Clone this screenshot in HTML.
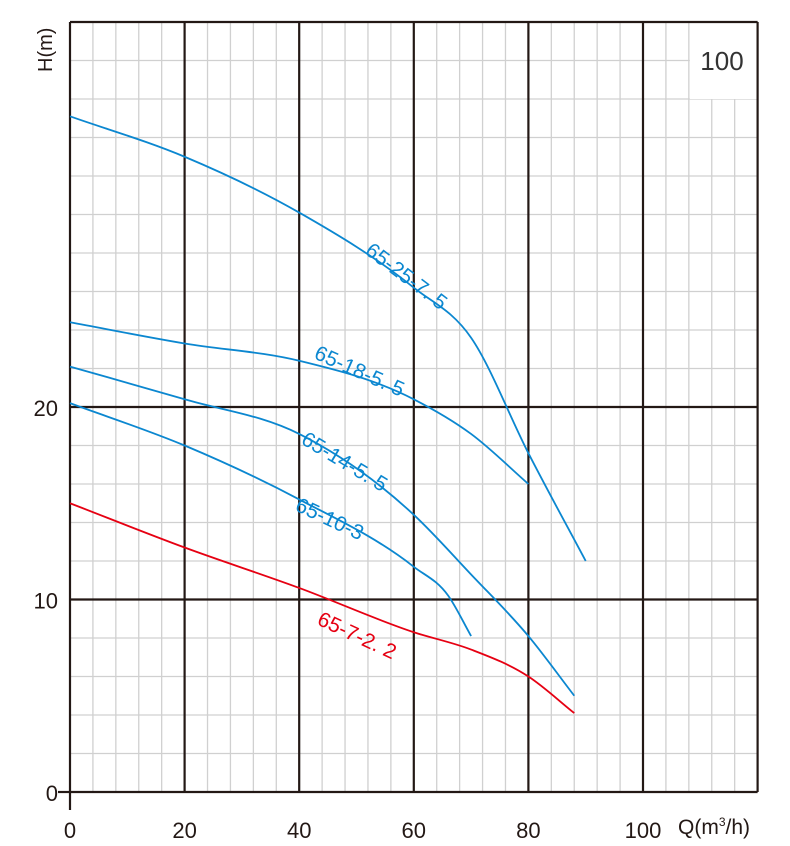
<!DOCTYPE html>
<html><head><meta charset="utf-8"><style>
html,body{margin:0;padding:0;background:#fff;}
svg{display:block;font-family:"Liberation Sans",sans-serif;}
</style></head><body>
<svg id="chart" width="790" height="846" viewBox="0 0 790 846" xmlns="http://www.w3.org/2000/svg">
<g id="grid"></g>
<g id="curves"></g>
<g id="labels"></g>
</svg>
<script>
const xTicks=[0,20,40,60,80,100];
const yTicks=[0,10,20];
const q25=[0,20,40,60,70,80,90];
const h25=[35.1,33.0,30.1,26.2,23.6,17.6,12.0];
const q18=[0,20,40,60,70,80];
const h18=[24.4,23.3,22.4,20.4,18.6,16.0];
const q14=[0,20,40,60,70,80,88];
const h14=[22.1,20.4,18.6,14.4,11.3,8.1,5.0];
const q10=[0,20,40,60,66,70];
const h10=[20.2,18.0,15.2,11.7,10.2,8.1];
const q7=[0,20,40,60,70,80,88];
const h7=[15.0,12.7,10.6,8.3,7.4,6.0,4.1];
const NS="http://www.w3.org/2000/svg";
const X0=70,XS=5.73,Y0=792,YS=19.25;
function sx(q){return X0+q*XS;}
function sy(h){return Y0-h*YS;}
function mk(tag,attrs,parent){const e=document.createElementNS(NS,tag);for(const k in attrs)e.setAttribute(k,attrs[k]);parent.appendChild(e);return e;}
const grid=document.getElementById('grid');
for(let q=0;q<=120;q+=4){
  if(q%20===0)continue;
  const l=mk('line',{x1:sx(q),x2:sx(q),y1:sy(40),y2:sy(0),stroke:'#d0d0d0','stroke-width':1.3},grid);
  
  
}
for(let h=0;h<=40;h+=2){
  if(h%10===0 && h<=20)continue;
  const l=mk('line',{x1:sx(0),x2:sx(120),y1:sy(h),y2:sy(h),stroke:'#d0d0d0','stroke-width':1.3},grid);
  
  
}
const box=mk('rect',{x:sx(108)+1,y:sy(40)+1,width:sx(120)-sx(108)-2,height:sy(36)-sy(40)-1,fill:'#fff'},grid);


for(let q=0;q<=120;q+=20){
  const l=mk('line',{x1:sx(q),x2:sx(q),y1:sy(40),y2:sy(0),stroke:'#231815','stroke-width':2.2},grid);
  
  
}
[0,10,20,40].forEach(h=>{
  const l=mk('line',{x1:sx(0),x2:sx(120),y1:sy(h),y2:sy(h),stroke:'#231815','stroke-width':2.2},grid);
  
  
});
let e1=mk('line',{x1:sx(0)-12,x2:sx(0),y1:sy(0),y2:sy(0),stroke:'#231815','stroke-width':2.2},grid);


let e2=mk('line',{x1:sx(0),x2:sx(0),y1:sy(0),y2:sy(0)+18,stroke:'#231815','stroke-width':2.2},grid);


const labels=document.getElementById('labels');
xTicks.forEach(t=>{
  const tx=mk('text',{x:sx(t),y:838,'text-anchor':'middle','font-size':22,fill:'#231815'},labels);
  tx.textContent=t;
  
  
});
yTicks.forEach(t=>{
  const tx=mk('text',{x:58,y:sy(t)+9,'text-anchor':'end','font-size':22,fill:'#231815'},labels);
  tx.textContent=t;
  
  
});
let xt=mk('text',{x:678,y:834,'font-size':21,fill:'#231815'},labels);
xt.innerHTML='Q(m<tspan font-size="12" dy="-8">3</tspan><tspan dy="8">/h)</tspan>';


let yt=mk('text',{x:0,y:0,'font-size':20,fill:'#231815',transform:'translate(52,72) rotate(-90)'},labels);
yt.textContent='H(m)';


let mt=mk('text',{x:722,y:70,'text-anchor':'middle','font-size':26,fill:'#333'},labels);
mt.textContent='100';


const curves=document.getElementById('curves');
function path(qs,hs){
  const n=qs.length,sec=[],m=[];
  for(let i=0;i<n-1;i++)sec.push((hs[i+1]-hs[i])/(qs[i+1]-qs[i]));
  for(let i=0;i<n;i++){
    if(i===0)m.push(sec[0]);else if(i===n-1)m.push(sec[n-2]);
    else{const a=qs[i]-qs[i-1],b=qs[i+1]-qs[i];m.push((sec[i-1]*b+sec[i]*a)/(a+b));}
  }
  let d='M'+sx(qs[0])+','+sy(hs[0]);
  for(let i=0;i<n-1;i++){
    const dx=(qs[i+1]-qs[i])/3;
    d+=' C'+sx(qs[i]+dx)+','+sy(hs[i]+m[i]*dx)+' '+sx(qs[i+1]-dx)+','+sy(hs[i+1]-m[i+1]*dx)+' '+sx(qs[i+1])+','+sy(hs[i+1]);
  }
  return d;
}
const series=[
 [q25,h25,'#0b87d0','curve-65-25-7.5','65-25-7. 5',364,253,37],
 [q18,h18,'#0b87d0','curve-65-18-5.5','65-18-5. 5',313,358,24],
 [q14,h14,'#0b87d0','curve-65-14-5.5','65-14-5. 5',300,443,31],
 [q10,h10,'#0b87d0','curve-65-10-3','65-10-3',294,510,25],
 [q7,h7,'#e60012','curve-65-7-2.2','65-7-2. 2',316,624,25]
];
series.forEach(s=>{
  const pa=mk('path',{d:path(s[0],s[1]),fill:'none',stroke:s[2],'stroke-width':1.8},curves);
  
  
  const t=mk('text',{x:0,y:0,'font-size':21,fill:s[2],transform:'translate('+s[5]+','+s[6]+') rotate('+s[7]+')'},labels);
  t.textContent=s[4];
  
  
});
</script>
</body></html>
